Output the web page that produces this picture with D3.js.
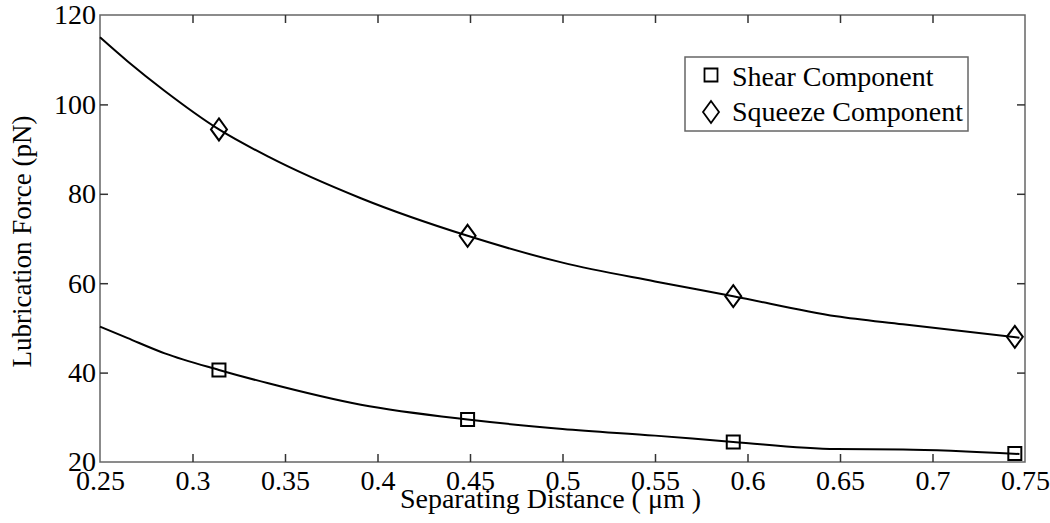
<!DOCTYPE html>
<meta charset="utf-8">
<style>
 body { margin: 0; background: #fff; }
 text { font-family: "Liberation Serif", "Times New Roman", serif; fill: #000; }
 .frame { fill: none; stroke: #666; stroke-width: 1.5px; }
 .axis path { display: none; }
 .axis line { stroke: #333; stroke-width: 1.5px; }
 .axis text { font-size: 28px; }
 .curve { fill: none; stroke: #000; stroke-width: 2px; }
 .mark { fill: none; stroke: #000; stroke-width: 2px; }
</style>

<svg class="chart"></svg>

<script src="https://cdn.jsdelivr.net/npm/d3@7"></script>

<script>

 // sample positions of the markers
 var markerX = [0.3143, 0.4487, 0.5923, 0.7445];
 var shearMarks = [40.6, 29.5, 24.5, 21.9];
 var squeezeMarks = [94.4, 70.6, 57.1, 48.0];

 // points along the fitted curves
 var curveX = [0.25, 0.265, 0.285, 0.3143, 0.341, 0.391, 0.4487, 0.5, 0.55, 0.5923, 0.648, 0.684, 0.747];
 var shearCurve = [50.3, 47.7, 44.3, 40.6, 37.6, 32.8, 29.5, 27.4, 25.9, 24.5, 22.9, 22.8, 21.8];
 var squeezeCurve = [115.0, 109.6, 103.0, 94.4, 88.3, 79.0, 70.6, 64.6, 60.4, 57.1, 52.6, 50.8, 47.8];

 var xTicks = [0.25, 0.3, 0.35, 0.4, 0.45, 0.5, 0.55, 0.6, 0.65, 0.7, 0.75];
 var yTicks = [20, 40, 60, 80, 100, 120];

 var legendLabels = ["Shear Component", "Squeeze Component"];

 var W = 1050, H = 523;
 var pLeft = 100, pTop = 15, pRight = 1025, pBottom = 462;

 var svg = d3.select(".chart").attr("width", W).attr("height", H);

 var x = d3.scaleLinear().domain([0.25, 0.75]).range([pLeft, pRight]);
 var y = d3.scaleLinear().domain([20, 120]).range([pBottom, pTop]);

 // frame
 svg.append("rect").attr("class", "frame")
    .attr("x", pLeft).attr("y", pTop).attr("width", pRight - pLeft).attr("height", pBottom - pTop);

 svg.append("g").attr("class", "axis").attr("transform", "translate(0," + pBottom + ")")
    .call(d3.axisBottom(x).tickValues(xTicks).tickSize(-8).tickPadding(8)
          .tickFormat(function(d) { return d3.format("")(+d.toFixed(2)); }));
 svg.append("g").attr("class", "axis").attr("transform", "translate(0," + pTop + ")")
    .call(d3.axisTop(x).tickValues(xTicks).tickSize(-8).tickFormat(""));
 svg.append("g").attr("class", "axis").attr("transform", "translate(" + pLeft + ",0)")
    .call(d3.axisLeft(y).tickValues(yTicks).tickSize(-8).tickPadding(4));
 svg.append("g").attr("class", "axis").attr("transform", "translate(" + pRight + ",0)")
    .call(d3.axisRight(y).tickValues(yTicks).tickSize(-8).tickFormat(""));

 svg.selectAll(".axis .tick line").filter(function(d) { return d == 0.25 || d == 0.75 || d == 20 || d == 120; }).remove();

 // axis titles
 svg.append("text").attr("x", (pLeft + pRight) / 2 - 12).attr("y", 508)
    .attr("text-anchor", "middle").style("font-size", "28px")
    .text("Separating Distance ( \u03bcm )");
 svg.append("text").attr("transform", "translate(31," + ((pTop + pBottom) / 2 + 3) + ") rotate(-90)")
    .attr("text-anchor", "middle").style("font-size", "27px")
    .text("Lubrication Force (pN)");

 var line = d3.line()
              .x(function(d) { return x(d[0]); })
              .y(function(d) { return y(d[1]); })
              .curve(d3.curveMonotoneX);

 [shearCurve, squeezeCurve].forEach(function(vals) {
     svg.append("path").attr("class", "curve")
        .attr("d", line(curveX.map(function(v, i) { return [v, vals[i]]; })));
 });

 function squarePath(cx, cy) {
     var s = 6.5;
     return "M" + (cx - s) + "," + (cy - s) + "h" + 2 * s + "v" + 2 * s + "h" + (-2 * s) + "Z";
 }
 function diamondPath(cx, cy) {
     var w = 8, h = 11;
     return "M" + cx + "," + (cy - h) + "L" + (cx + w) + "," + cy + "L" + cx + "," + (cy + h) + "L" + (cx - w) + "," + cy + "Z";
 }

 svg.selectAll(".shear").data(shearMarks).enter().append("path").attr("class", "mark")
    .attr("d", function(d, i) { return squarePath(x(markerX[i]), y(d)); });
 svg.selectAll(".squeeze").data(squeezeMarks).enter().append("path").attr("class", "mark")
    .attr("d", function(d, i) { return diamondPath(x(markerX[i]), y(d)); });

 // legend
 var lg = svg.append("g");
 lg.append("rect").attr("class", "frame").style("fill", "#fff")
   .attr("x", 685).attr("y", 57).attr("width", 283).attr("height", 74);
 lg.append("path").attr("class", "mark").style("stroke-width", "1.8px").attr("d", squarePath(711, 75));
 lg.append("path").attr("class", "mark").style("stroke-width", "1.8px").attr("d", diamondPath(711, 112));
 lg.selectAll(".lt").data(legendLabels).enter().append("text")
   .attr("x", 732).attr("y", function(d, i) { return 86 + i * 35; })
   .style("font-size", "28px").text(function(d) { return d; });

</script>
